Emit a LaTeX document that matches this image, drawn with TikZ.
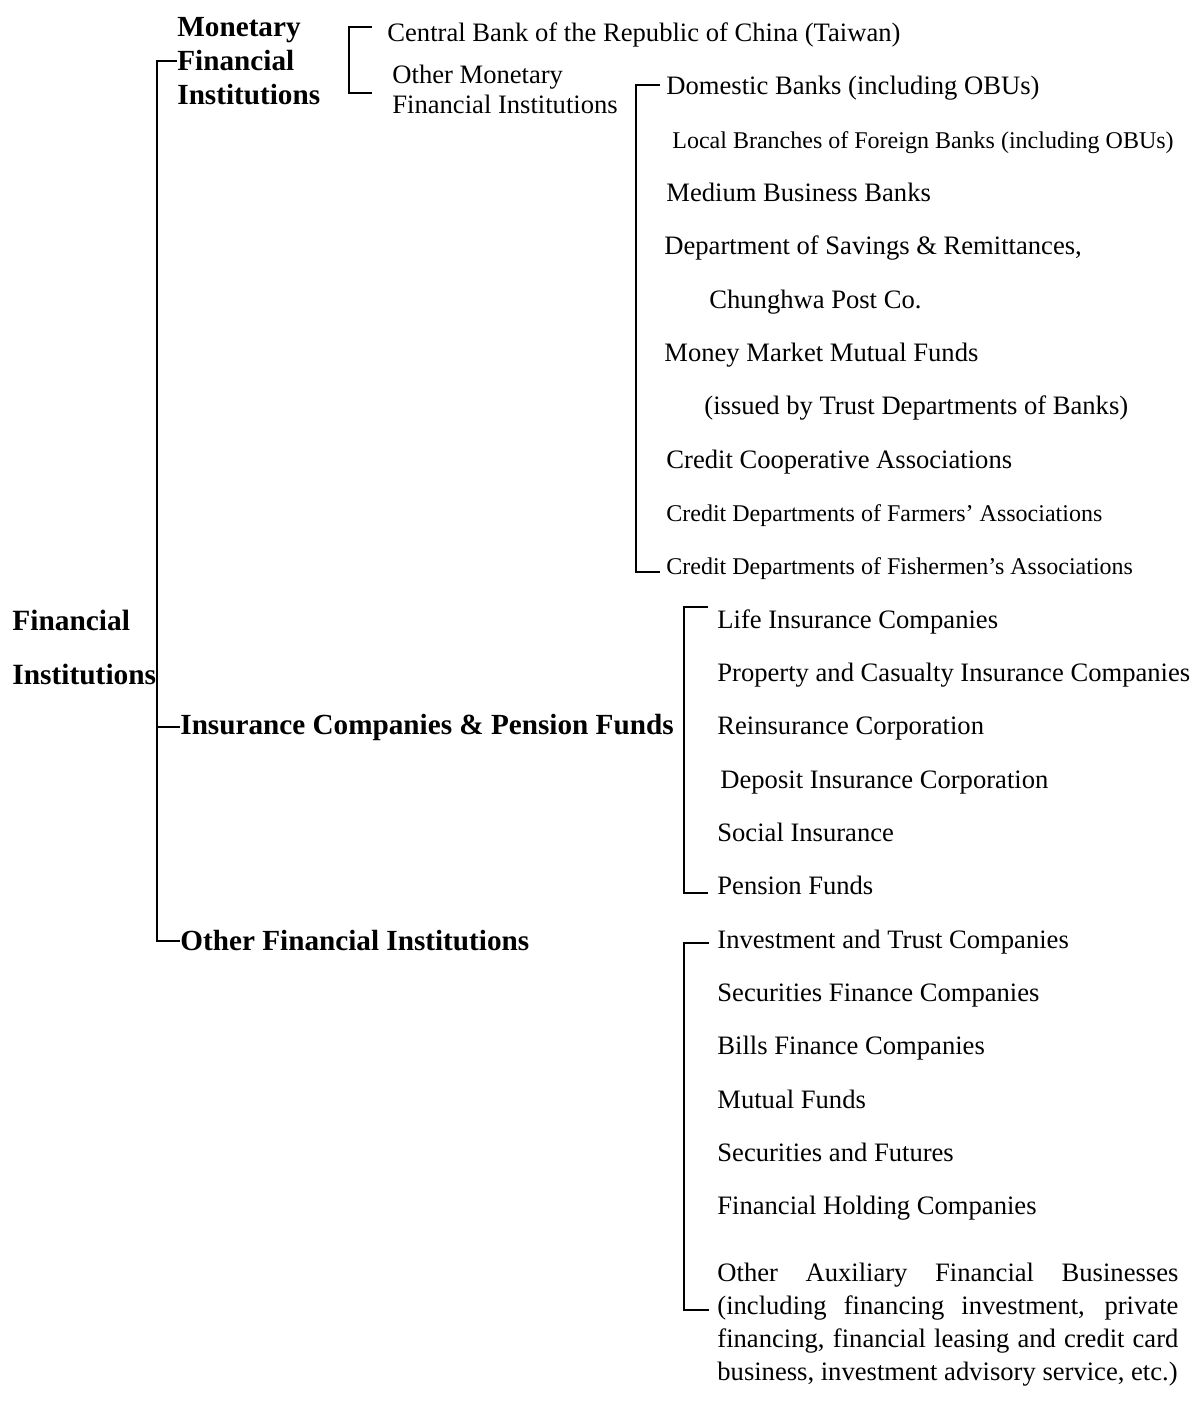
\documentclass[tikz,border=0pt]{standalone}
\usepackage{fontspec}
\setmainfont{Liberation Serif}
\usepackage{tikz}
\usetikzlibrary{positioning,calc}

\tikzset{
  head/.style = {anchor = west, inner sep = 0pt, align = left,
    font = \bfseries\fontsize{14.6}{17}\selectfont},
  rootname/.style = {head, font = \bfseries\fontsize{14.7}{27}\selectfont},
  item/.style = {anchor = west, inner sep = 0pt, text height = 10pt, text depth = 2pt,
    font = \fontsize{13.3}{15}\selectfont},
  smallitem/.style = {item, font = \fontsize{12}{14}\selectfont},
  twolines/.style = {anchor = west, inner sep = 0pt, align = left,
    font = \fontsize{13.3}{15}\selectfont},
  link/.style = {line width = 1pt}
}

\begin{document}
\begin{tikzpicture}[x = .5pt, y = -.5pt]
\useasboundingbox (0,0) rectangle (1193,1405);
% first level
\node[rootname] (fin) at (12,647) {Financial\\Institutions};
\node[head] (mfi) at (177,61) {Monetary\\Financial\\Institutions};
\node[head] (icpf) at (180,727) {Insurance Companies \& Pension Funds};
\node[head] (ofi) at (180,941) {Other Financial Institutions};
\draw[link] (mfi.west) -- (mfi.west -| fin.east) -- (ofi.west -| fin.east) -- (ofi.west);
\draw[link] (icpf.west -| fin.east) -- (icpf.west);
% monetary financial institutions
\node[item] (cbk) at (387,33) {Central Bank of the Republic of China (Taiwan)};
\node[twolines] (omfi) at (392,89) {Other Monetary\\Financial Institutions};
\draw[link] ($(cbk.west)+(-15,-6)$) -- ++(-23,0) |- ($(omfi.west)+(-20,4)$);
% other monetary financial institutions
\node[item] (dbk) at (666,86) {Domestic Banks (including OBUs)};
\node[smallitem] (lbf) at (672,140) {Local Branches of Foreign Banks (including OBUs)};
\node[item] (mbb) at (666,193) {Medium Business Banks};
\node[item] (dsr) at (664,246) {Department of Savings \& Remittances,};
\node[item] (chp) at (709,300) {Chunghwa Post Co.};
\node[item] (mmf) at (664,353) {Money Market Mutual Funds};
\node[item] (itd) at (704,406) {(issued by Trust Departments of Banks)};
\node[item] (cca) at (666,460) {Credit Cooperative Associations};
\node[smallitem] (cdfa) at (666,513) {Credit Departments of Farmers’ Associations};
\node[smallitem] (cdfi) at (666,566) {Credit Departments of Fishermen’s Associations};
\draw[link] ($(dbk.west)+(-6,-1)$) -- ++(-24,0) |- ($(cdfi.west)+(-6,6)$);
% insurance companies and pension funds
\node[item] (lic) at (717,620) {Life Insurance Companies};
\node[item] (pci) at (717,673) {Property and Casualty Insurance Companies};
\node[item] (rei) at (717,726) {Reinsurance Corporation};
\node[item] (dic) at (720,780) {Deposit Insurance Corporation};
\node[item] (soc) at (717,833) {Social Insurance};
\node[item] (pen) at (717,886) {Pension Funds};
\draw[link] ($(lic.west)+(-9,-13)$) -- ++(-24,0) |- ($(pen.west)+(-9,7)$);
% other financial institutions
\node[item] (itc) at (717,940) {Investment and Trust Companies};
\node[item] (sfc) at (717,993) {Securities Finance Companies};
\node[item] (bfc) at (717,1046) {Bills Finance Companies};
\node[item] (muf) at (717,1100) {Mutual Funds};
\node[item] (saf) at (717,1153) {Securities and Futures};
\node[item] (fhc) at (717,1206) {Financial Holding Companies};
\node[anchor = west, inner sep = 0pt, text width = 230.5pt, align = justify,
  font = \fontsize{13.3}{16.5}\selectfont] (oafb) at (717,1325)
  {\parfillskip=0pt \hyphenpenalty=10000 Other Auxiliary Financial Businesses\linebreak
   (including financing investment, private\linebreak
   financing, financial leasing and credit card\linebreak
   business, investment advisory service, etc.)};
\draw[link] ($(itc.west)+(-8,3)$) -- ++(-25,0) |- ($(oafb.west)+(-8,-15)$);
\end{tikzpicture}
\end{document}
